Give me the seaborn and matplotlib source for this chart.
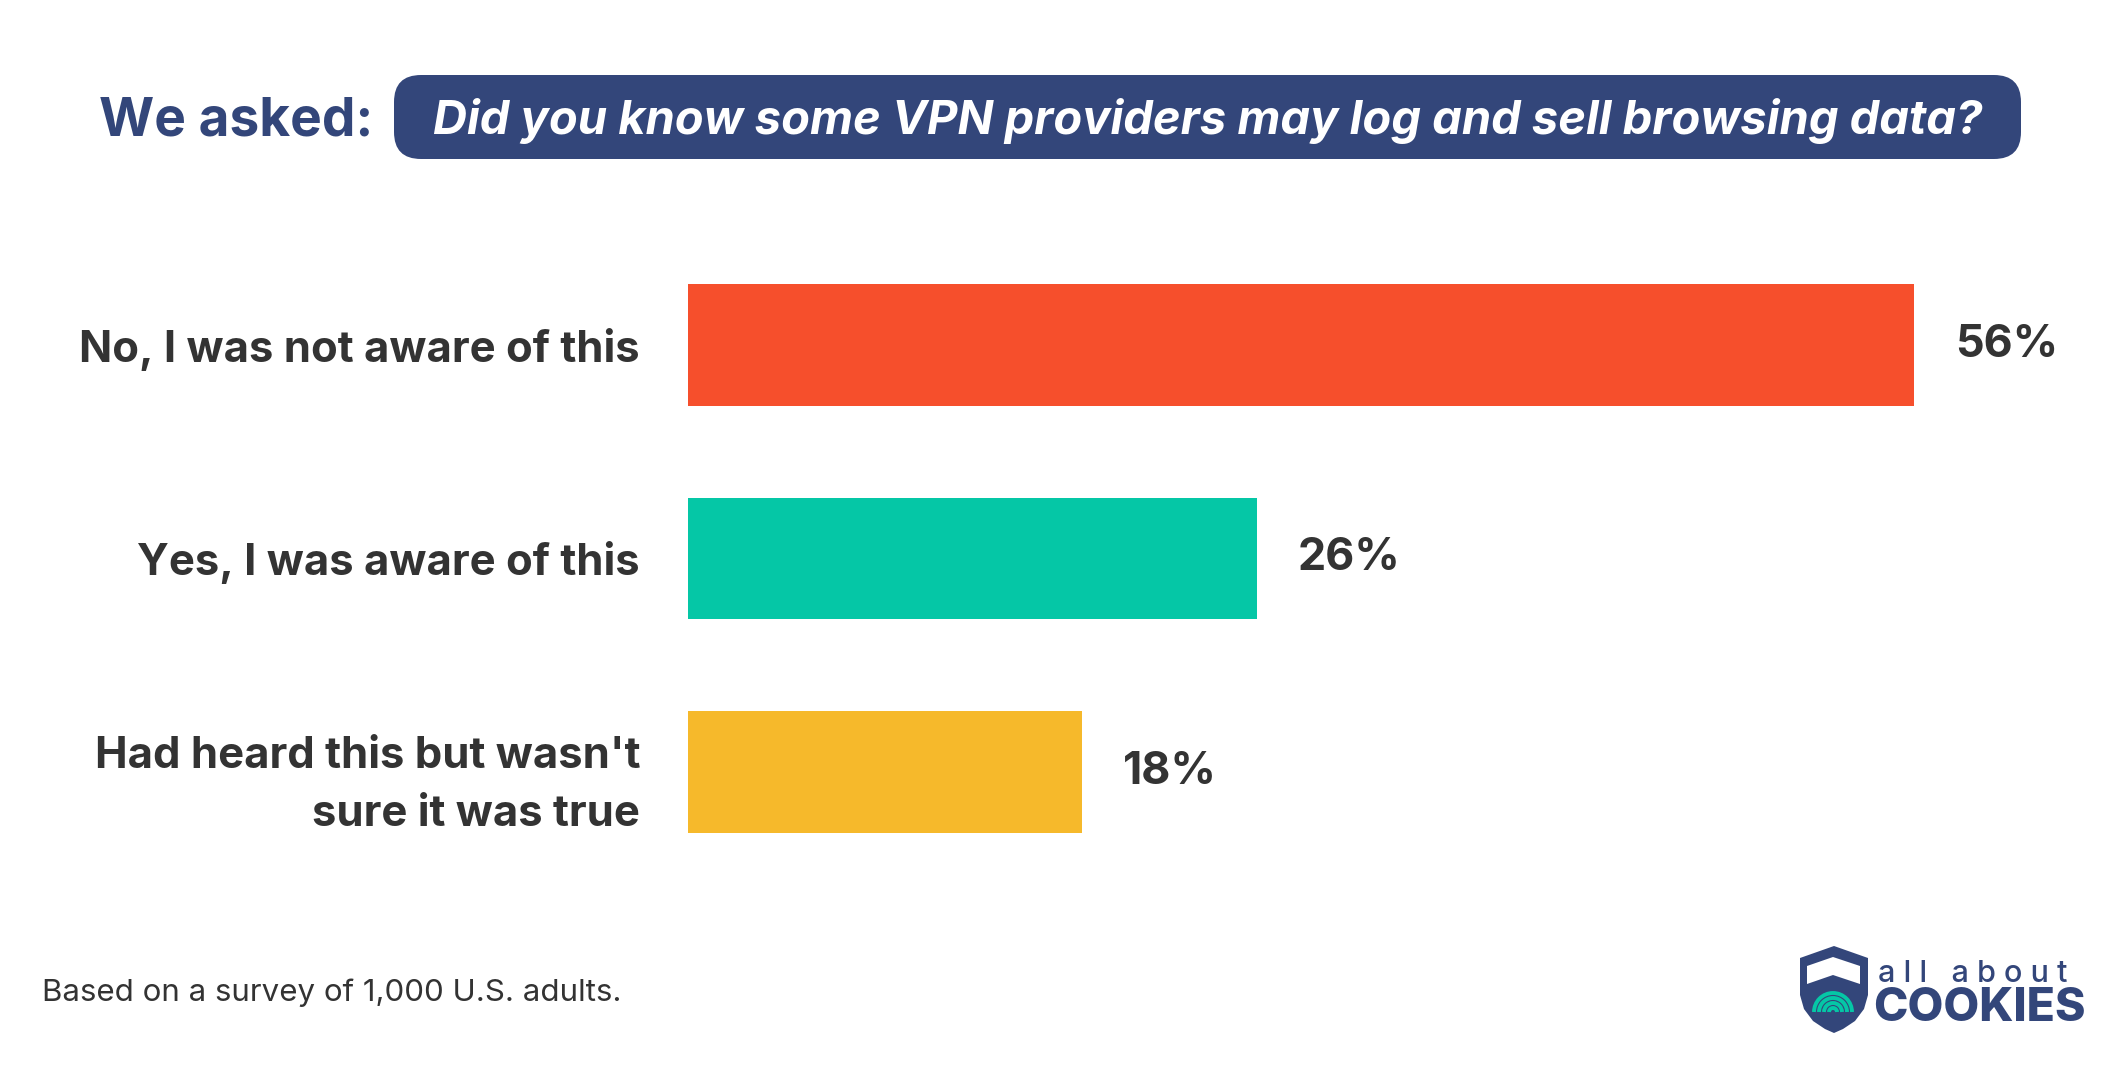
import numpy as np
import pandas as pd
import matplotlib
matplotlib.use("Agg")
import matplotlib.pyplot as plt
from matplotlib.patches import FancyBboxPatch, Polygon, Arc
import seaborn as sns

# ===========================
# DATA
# ===========================
CATEGORIES = ["No, I was not aware of this",
              "Yes, I was aware of this",
              "Had heard this but wasn't\nsure it was true"]
VALUES = [56, 26, 18]
COLORS = ["#F64F2C", "#05C7A6", "#F6B92B"]

QUESTION = "Did you know some VPN providers may log and sell browsing data?"
NOTE = "Based on a survey of 1,000 U.S. adults."

NAVY = "#33467A"
TEXT = "#333333"
W, H = 2125, 1078

sns.set_theme(style="white")
plt.rcParams["font.family"] = ["Inter", "DejaVu Sans"]

df = pd.DataFrame({"answer": CATEGORIES, "pct": VALUES})

fig = plt.figure(figsize=(W / 100, H / 100), dpi=100)
fig.patch.set_facecolor("white")

# main bar axes, placed in pixel terms
ax_left, ax_right = 688, 688 + 64 * 21.9
ax_top, ax_bot = 238.25, 878.75
ax = fig.add_axes([ax_left / W, 1 - ax_bot / H, (ax_right - ax_left) / W, (ax_bot - ax_top) / H])

sns.barplot(data=df, y="answer", x="pct", hue="answer", palette=COLORS,
            width=0.567, legend=False, ax=ax, saturation=1, edgecolor="none")
ax.set_xlim(0, 64)
ax.set_ylim(2.5, -0.5)
ax.set_xlabel("")
ax.set_ylabel("")
ax.set_xticks([])
sns.despine(ax=ax, left=True, bottom=True)
ax.tick_params(axis="y", length=0, pad=34.5)
for lbl in ax.get_yticklabels():
    lbl.set_fontsize(31.4)
    lbl.set_fontweight("bold")
    lbl.set_color(TEXT)
    lbl.set_linespacing(1.55)

for cont in ax.containers:
    ax.bar_label(cont, fmt="%d%%", padding=29, fontsize=32.3,
                 fontweight="bold", color=TEXT)

# ===========================
# overlay for header, note, logo (pixel coords, y up)
# ===========================
ov = fig.add_axes([0, 0, 1, 1], zorder=5)
ov.set_xlim(0, W)
ov.set_ylim(0, H)
ov.axis("off")
ov.patch.set_alpha(0)

def Y(y):
    return H - y

ov.text(373, Y(121), "We asked:", ha="right", va="center", fontsize=38.3,
        fontweight="bold", color=NAVY)
pill = FancyBboxPatch((394, Y(159)), 2021 - 394, 159 - 75,
                      boxstyle="round,pad=0,rounding_size=27",
                      facecolor=NAVY, edgecolor="none")
ov.add_patch(pill)
ov.text((394 + 2021) / 2, Y(121), QUESTION, ha="center", va="center",
        fontsize=33.9, fontweight="bold", fontstyle="italic", color="white")

ov.text(42, Y(993), NOTE, ha="left", va="center", fontsize=22.5, color=TEXT)

# logo: shield
shield = [(1800, 958), (1834, 946), (1868, 958), (1868, 995), (1864, 1009),
          (1855, 1021), (1843, 1029), (1834, 1033), (1825, 1029), (1813, 1021),
          (1804, 1009), (1800, 995)]
ov.add_patch(Polygon([(x, Y(y)) for x, y in shield], closed=True,
                     facecolor=NAVY, edgecolor="none"))
chev = [(1807, 966), (1833, 957), (1860, 966), (1860, 984), (1833, 975), (1807, 984)]
ov.add_patch(Polygon([(x, Y(y)) for x, y in chev], closed=True,
                     facecolor="white", edgecolor="none"))
for r in [4, 9, 14, 19]:
    ov.add_patch(Arc((1833, Y(1012)), 2 * r, 2 * r, theta1=0, theta2=180,
                     color="#05C7A6", lw=2.8))

ov.text(1878, Y(982), "a l l   a b o u t", ha="left", va="baseline",
        fontsize=22, fontweight="medium", color=NAVY)
ov.text(1873, Y(1021), "COOKIES", ha="left", va="baseline", fontsize=33.4,
        fontweight="heavy", color=NAVY)

fig.savefig("out.png", dpi=100)
